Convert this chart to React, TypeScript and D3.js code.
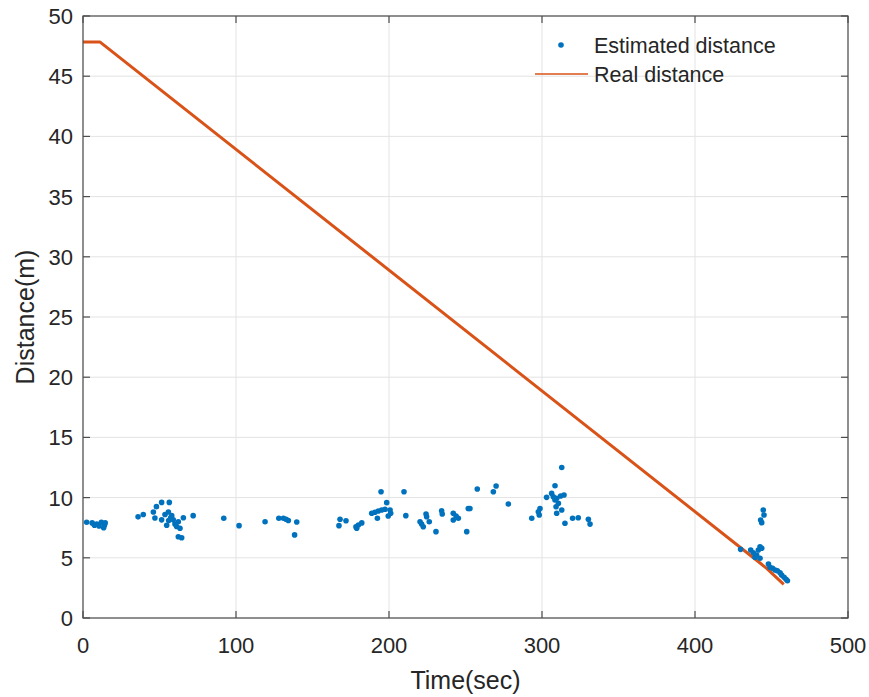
import React from "react";
import * as d3 from "d3";

const estTime = [2.4, 6, 7.5, 9, 10.5, 12, 14, 14.5, 13.5, 36, 39.4, 46, 48, 51.4, 56.4, 47, 51.4, 53.6, 55.8, 54.7, 57.3, 59, 60.1, 61.2, 62.3, 63.4, 65.6, 62.3, 64.5, 72, 58, 56, 92, 102, 119, 128, 131, 132.7, 134.2, 139.7, 138.3, 168, 167.3, 171.9, 178.4, 180, 182.2, 178.9, 188.7, 190.8, 193, 195.2, 192.4, 194.8, 197.4, 198.5, 200.7, 199.5, 201.1, 209.8, 211, 220.3, 221.3, 222.4, 224.2, 224.6, 226.3, 230.7, 234.4, 234.8, 242, 243.8, 245.3, 242, 251.8, 252.9, 250.8, 257.7, 268.2, 270, 278, 293.3, 297.6, 298.7, 298.2, 303, 306.3, 307.4, 308.5, 309.6, 310.7, 309.2, 312.2, 314.4, 309.6, 308.5, 312.9, 312.9, 315, 320, 323.7, 330.3, 331.4, 429.8, 436.4, 438.1, 439.2, 440.3, 441.4, 442.5, 443.6, 442.5, 442.9, 443.6, 444.6, 445.1, 448, 449, 450.7, 452.3, 453.8, 455.6, 456.6, 458.2, 459.5, 460.4];
const estDist = [7.95, 7.9, 7.7, 7.8, 7.65, 7.95, 7.7, 7.9, 7.5, 8.4, 8.6, 8.8, 9.25, 9.6, 9.6, 8.3, 8.15, 8.6, 8.8, 7.7, 8.33, 8.15, 7.8, 7.6, 8.0, 7.45, 8.33, 6.75, 6.67, 8.5, 8.5, 8.1, 8.28, 7.67, 8.0, 8.28, 8.28, 8.2, 8.1, 7.97, 6.9, 8.2, 7.67, 8.08, 7.58, 7.72, 7.9, 7.45, 8.7, 8.78, 8.89, 8.97, 8.28, 10.49, 9.03, 9.58, 8.97, 8.47, 8.7, 10.49, 8.5, 8.0, 7.8, 7.58, 8.64, 8.41, 8.0, 7.17, 8.91, 8.64, 8.7, 8.47, 8.28, 8.14, 9.1, 9.1, 7.17, 10.71, 10.49, 10.96, 9.47, 8.28, 8.83, 9.1, 8.55, 10.02, 10.35, 10.07, 9.8, 9.94, 9.52, 9.24, 10.13, 10.22, 8.7, 10.99, 12.5, 8.97, 7.87, 8.28, 8.33, 8.2, 7.8, 5.7, 5.65, 5.42, 5.04, 5.23, 5.65, 5.92, 5.79, 4.96, 8.14, 7.92, 8.97, 8.55, 4.49, 4.21, 4.13, 3.99, 3.93, 3.76, 3.57, 3.38, 3.21, 3.1];

const realTime = [0, 11, 442.5, 447, 458];
const realDist = [47.85, 47.85, 4.57, 4.1, 2.8];

const xTicks = [0, 100, 200, 300, 400, 500];
const yTicks = [0, 5, 10, 15, 20, 25, 30, 35, 40, 45, 50];

const legendLabels = ["Estimated distance", "Real distance"];
const xLabel = "Time(sec)";
const yLabel = "Distance(m)";

export default function App() {
  const W = 869, H = 697;
  const L = 83, R = 848, T = 16, B = 618;
  const x = d3.scaleLinear().domain([0, 500]).range([L, R]);
  const y = d3.scaleLinear().domain([0, 50]).range([B, T]);
  const font = "'Liberation Sans', Arial, sans-serif";
  const txt = "#262626";
  const axisCol = "#4d4d4d";
  const line = d3.line<number>().x((_, i) => x(realTime[i])).y((_, i) => y(realDist[i]));
  const tl = 7;
  return (
    <svg width={W} height={H} style={{ position: "absolute", left: 0, top: 0, background: "#fff" }} fontFamily={font}>
      <rect x={0} y={0} width={W} height={H} fill="#fff" />
      {xTicks.map((t) => (
        <line key={"gx" + t} x1={x(t)} x2={x(t)} y1={T} y2={B} stroke="#e3e3e3" strokeWidth={1} />
      ))}
      {yTicks.map((t) => (
        <line key={"gy" + t} x1={L} x2={R} y1={y(t)} y2={y(t)} stroke="#e3e3e3" strokeWidth={1} />
      ))}
      <path d={line(realTime) || ""} fill="none" stroke="#D95319" strokeWidth={3} strokeLinejoin="round" />
      {estTime.map((t, i) => (
        <circle key={"p" + i} cx={x(t)} cy={y(estDist[i])} r={2.8} fill="#0072BD" />
      ))}
      <rect x={L} y={T} width={R - L} height={B - T} fill="none" stroke={axisCol} strokeWidth={1.2} />
      {xTicks.map((t) => (
        <g key={"tx" + t}>
          <line x1={x(t)} x2={x(t)} y1={B} y2={B - tl} stroke={axisCol} strokeWidth={1.2} />
          <line x1={x(t)} x2={x(t)} y1={T} y2={T + tl} stroke={axisCol} strokeWidth={1.2} />
          <text x={x(t)} y={653} fontSize={22} fill={txt} textAnchor="middle">{t}</text>
        </g>
      ))}
      {yTicks.map((t) => (
        <g key={"ty" + t}>
          <line x1={L} x2={L + tl} y1={y(t)} y2={y(t)} stroke={axisCol} strokeWidth={1.2} />
          <line x1={R} x2={R - tl} y1={y(t)} y2={y(t)} stroke={axisCol} strokeWidth={1.2} />
          <text x={73} y={y(t) + 8} fontSize={22} fill={txt} textAnchor="end">{t}</text>
        </g>
      ))}
      <text x={(L + R) / 2} y={689} fontSize={25} fill={txt} textAnchor="middle">{xLabel}</text>
      <text transform={`translate(34,${(T + B) / 2}) rotate(-90)`} fontSize={25} fill={txt} textAnchor="middle">{yLabel}</text>
      <circle cx={561} cy={45} r={2.8} fill="#0072BD" />
      <text x={594} y={53} fontSize={21.5} fill={txt}>{legendLabels[0]}</text>
      <line x1={535} x2={588} y1={74} y2={74} stroke="#D95319" strokeWidth={1.5} />
      <text x={594} y={82} fontSize={21.5} fill={txt}>{legendLabels[1]}</text>
    </svg>
  );
}
